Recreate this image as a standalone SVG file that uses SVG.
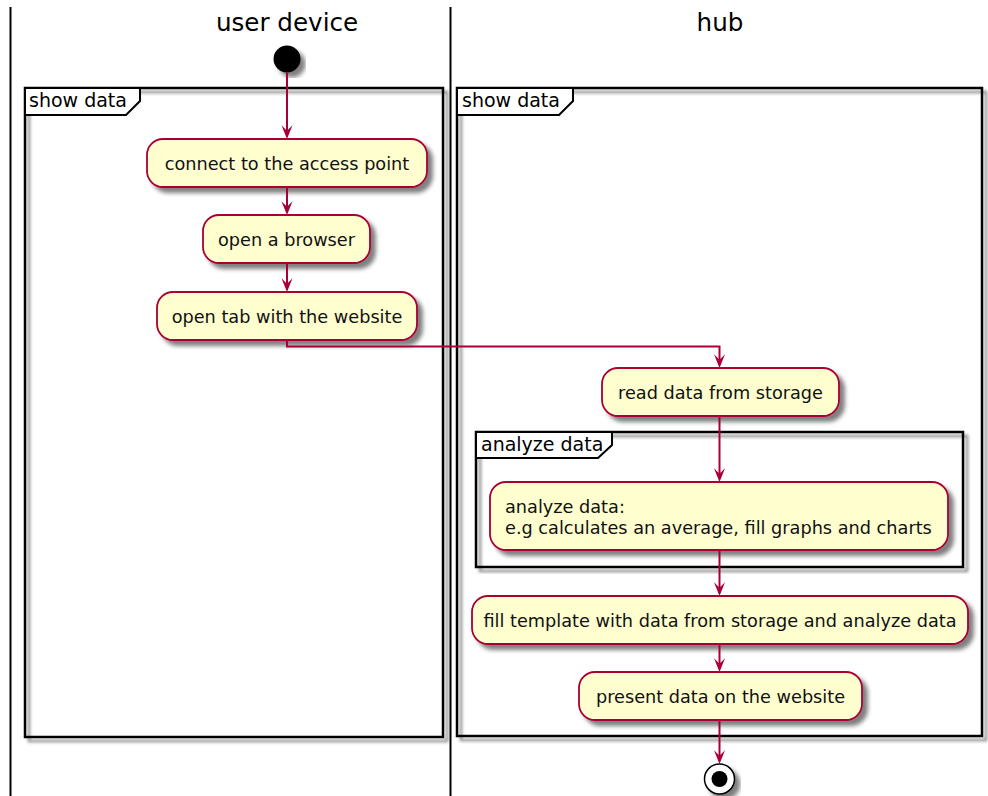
<svg xmlns="http://www.w3.org/2000/svg" width="988" height="796" viewBox="0 0 988 796">
<defs>
<filter id="sh" x="-20%" y="-20%" width="140%" height="140%">
<feGaussianBlur in="SourceAlpha" stdDeviation="2.2"/>
<feColorMatrix type="matrix" values="0 0 0 0 0  0 0 0 0 0  0 0 0 0 0  0 0 0 0.5 0"/>
<feOffset dx="5" dy="5" result="b"/>
<feMerge><feMergeNode in="b"/><feMergeNode in="SourceGraphic"/></feMerge>
</filter>
<filter id="shf" x="-5%" y="-5%" width="110%" height="110%">
<feGaussianBlur in="SourceAlpha" stdDeviation="1.5"/>
<feColorMatrix type="matrix" values="0 0 0 0 0  0 0 0 0 0  0 0 0 0 0  0 0 0 0.45 0"/>
<feOffset dx="4" dy="4" result="b"/>
<feMerge><feMergeNode in="b"/><feMergeNode in="SourceGraphic"/></feMerge>
</filter>
<style>
.lane{stroke:#000;stroke-width:2;fill:none}
.title{font-family:"DejaVu Sans",sans-serif;font-size:24.6px;fill:#000;text-anchor:middle}
.frame{stroke:#000;stroke-width:2.5;fill:none}
.tab{stroke:#000;stroke-width:2;fill:#fff}
.flabel{font-family:"DejaVu Sans",sans-serif;font-size:19px;fill:#000}
.act{fill:#FEFECE;stroke:#A80036;stroke-width:1.8}
.txt{font-family:"DejaVu Sans",sans-serif;font-size:17.7px;fill:#111;text-anchor:middle}
.txtl{font-family:"DejaVu Sans",sans-serif;font-size:17.7px;fill:#111}
.edge{stroke:#A80036;stroke-width:2;fill:none}
.head{fill:#A80036}
</style>
</defs>
<rect width="988" height="796" fill="#fff"/>
<g id="lanes">
<line class="lane" x1="10.5" y1="7" x2="10.5" y2="796"/>
<line class="lane" x1="450.5" y1="7" x2="450.5" y2="796"/>
<text class="title" x="287" y="31">user device</text>
<text class="title" x="720" y="31">hub</text>
</g>
<g id="frame-show-data-user">
<rect class="frame" x="25" y="88" width="418" height="649" filter="url(#shf)"/>
<path class="tab" d="M25,88 H140 V101 L126,115 H25 Z"/>
<text class="flabel" x="29" y="107">show data</text>
</g>
<g id="frame-show-data-hub">
<rect class="frame" x="457" y="88" width="525" height="648" filter="url(#shf)"/>
<path class="tab" d="M457,88 H573 V101 L559,115 H457 Z"/>
<text class="flabel" x="462" y="107">show data</text>
</g>
<g id="frame-analyze-data">
<rect class="frame" x="476" y="432" width="487" height="135" filter="url(#shf)"/>
<path class="tab" d="M476,432 H612 V445 L598,458 H476 Z"/>
<text class="flabel" x="481" y="451">analyze data</text>
</g>
<g id="start">
<circle cx="287" cy="59" r="13.5" fill="#000" filter="url(#sh)"/>
</g>
<g id="act-connect">
<rect class="act" x="147" y="139" width="280" height="48" rx="16" filter="url(#sh)"/>
<text class="txt" x="287" y="170">connect to the access point</text>
</g>
<g id="act-browser">
<rect class="act" x="203" y="215" width="167" height="48" rx="16" filter="url(#sh)"/>
<text class="txt" x="286.5" y="246">open a browser</text>
</g>
<g id="act-tab">
<rect class="act" x="157" y="292" width="260" height="48" rx="16" filter="url(#sh)"/>
<text class="txt" x="287" y="323">open tab with the website</text>
</g>
<g id="act-read">
<rect class="act" x="602" y="368" width="237" height="48" rx="16" filter="url(#sh)"/>
<text class="txt" x="720.5" y="399">read data from storage</text>
</g>
<g id="act-analyze">
<rect class="act" x="490" y="482" width="458" height="68" rx="16" filter="url(#sh)"/>
<text class="txtl" x="505" y="513">analyze data:</text>
<text class="txtl" x="505" y="533.5">e.g calculates an average, fill graphs and charts</text>
</g>
<g id="act-fill">
<rect class="act" x="472" y="596" width="496" height="48" rx="16" filter="url(#sh)"/>
<text class="txt" x="720" y="627">fill template with data from storage and analyze data</text>
</g>
<g id="act-present">
<rect class="act" x="579" y="672" width="283" height="48" rx="16" filter="url(#sh)"/>
<text class="txt" x="720.5" y="703">present data on the website</text>
</g>
<g id="end">
<circle cx="719.5" cy="779" r="15" fill="#fff" stroke="#000" stroke-width="1.5" filter="url(#sh)"/>
<circle cx="719.5" cy="779" r="8" fill="#000"/>
</g>
<g id="connectors">
<path class="edge" d="M287,72.5 V136"/>
<path class="head" d="M281.5,125.3 L287,139 L292.5,125.3 L287,130.8 Z"/>
<path class="edge" d="M287,187 V212"/>
<path class="head" d="M281.5,201.3 L287,215 L292.5,201.3 L287,206.8 Z"/>
<path class="edge" d="M287,263 V289"/>
<path class="head" d="M281.5,278.3 L287,292 L292.5,278.3 L287,283.8 Z"/>
<path class="edge" d="M287,340 V346.5 H719.5 V365"/>
<path class="head" d="M714,354.3 L719.5,368 L725,354.3 L719.5,359.8 Z"/>
<path class="edge" d="M719.5,416 V479"/>
<path class="head" d="M714,468.3 L719.5,482 L725,468.3 L719.5,473.8 Z"/>
<path class="edge" d="M719.5,550 V593"/>
<path class="head" d="M714,582.3 L719.5,596 L725,582.3 L719.5,587.8 Z"/>
<path class="edge" d="M719.5,644 V669"/>
<path class="head" d="M714,658.3 L719.5,672 L725,658.3 L719.5,663.8 Z"/>
<path class="edge" d="M719.5,720 V761"/>
<path class="head" d="M714,750.3 L719.5,764 L725,750.3 L719.5,755.8 Z"/>
</g>
</svg>
